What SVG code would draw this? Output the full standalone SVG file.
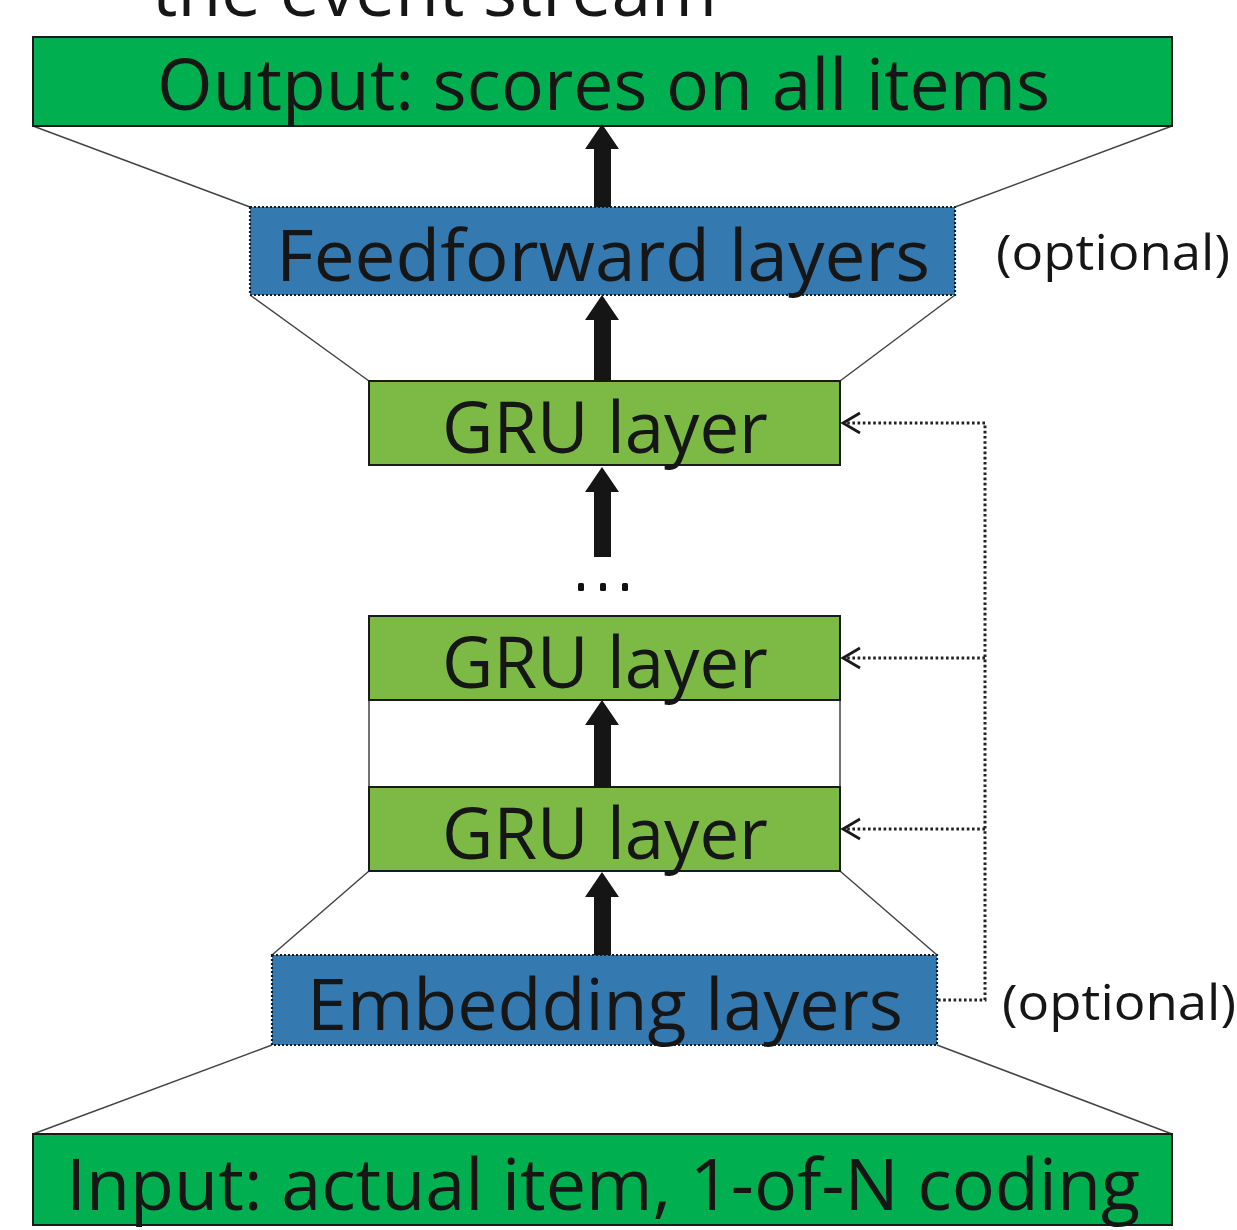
<svg xmlns="http://www.w3.org/2000/svg" width="1237" height="1230" viewBox="0 0 1237 1230">
<style>
.lbl{font-family:"Open Sans","Noto Sans","DejaVu Sans",sans-serif;font-size:72px;fill:#161616}
.opt{font-family:"Open Sans","Noto Sans","DejaVu Sans",sans-serif;font-size:50px;fill:#161616}
.green{fill:#00B050;stroke:#1a1a1a;stroke-width:2}
.lgreen{fill:#7DB945;stroke:#1a1a1a;stroke-width:2}
.blue{fill:#347AB0;stroke:#1a1a1a;stroke-width:2.2;stroke-dasharray:2 2}
.side{stroke:#444;stroke-width:1.5;fill:none}
.fb{stroke:#222;stroke-width:3;fill:none;stroke-dasharray:2.6 2.6}
.chev{stroke:#1a1a1a;stroke-width:2.8;fill:none}
.thick{fill:#151515}
</style>
<rect width="1237" height="1230" fill="#ffffff"/>
<text class="lbl" x="152" y="16" textLength="565" lengthAdjust="spacingAndGlyphs">the event stream</text>

<g id="side-lines">
<line class="side" x1="33" y1="126" x2="250" y2="207"/>
<line class="side" x1="1172" y1="126" x2="955" y2="207"/>
<line class="side" x1="250" y1="295" x2="369" y2="381"/>
<line class="side" x1="955" y1="295" x2="840" y2="381"/>
<line class="side" x1="369" y1="700" x2="369" y2="787"/>
<line class="side" x1="840" y1="700" x2="840" y2="787"/>
<line class="side" x1="369" y1="871" x2="272" y2="955"/>
<line class="side" x1="840" y1="871" x2="937" y2="955"/>
<line class="side" x1="272" y1="1045" x2="33" y2="1134"/>
<line class="side" x1="937" y1="1045" x2="1172" y2="1134"/>
</g>

<g id="output">
<rect class="green" x="33" y="37" width="1139" height="89"/>
<text class="lbl" x="157" y="110" textLength="893" lengthAdjust="spacingAndGlyphs">Output: scores on all items</text>
</g>
<g id="feedforward">
<rect class="blue" x="250" y="207" width="705" height="88"/>
<text class="lbl" x="276" y="281" textLength="654" lengthAdjust="spacingAndGlyphs">Feedforward layers</text>
</g>
<text class="opt" x="996" y="270" textLength="234" lengthAdjust="spacingAndGlyphs">(optional)</text>
<g id="gru1">
<rect class="lgreen" x="369" y="381" width="471" height="84"/>
<text class="lbl" x="442" y="453" textLength="326" lengthAdjust="spacingAndGlyphs">GRU layer</text>
</g>
<g id="ellipsis">
<rect x="578" y="583" width="6" height="8" rx="1.5" fill="#111"/>
<rect x="600" y="583" width="6" height="8" rx="1.5" fill="#111"/>
<rect x="622" y="583" width="6" height="8" rx="1.5" fill="#111"/>
</g>
<g id="gru2">
<rect class="lgreen" x="369" y="616" width="471" height="84"/>
<text class="lbl" x="442" y="688" textLength="326" lengthAdjust="spacingAndGlyphs">GRU layer</text>
</g>
<g id="gru3">
<rect class="lgreen" x="369" y="787" width="471" height="84"/>
<text class="lbl" x="442" y="859" textLength="326" lengthAdjust="spacingAndGlyphs">GRU layer</text>
</g>
<g id="embedding">
<rect class="blue" x="272" y="955" width="665" height="90"/>
<text class="lbl" x="307" y="1030" textLength="596" lengthAdjust="spacingAndGlyphs">Embedding layers</text>
</g>
<text class="opt" x="1002" y="1020" textLength="234" lengthAdjust="spacingAndGlyphs">(optional)</text>
<g id="input">
<rect class="green" x="33" y="1134" width="1139" height="91"/>
<text class="lbl" x="66" y="1210" textLength="1074" lengthAdjust="spacingAndGlyphs">Input: actual item, 1-of-N coding</text>
</g>

<g id="connectors">
<path class="thick" d="M602,124 L619,149 L611,149 L611,207 L594,207 L594,149 L585,149 Z"/>
<path class="thick" d="M602,295 L619,320 L611,320 L611,381 L594,381 L594,320 L585,320 Z"/>
<path class="thick" d="M602,467 L619,492 L611,492 L611,557 L594,557 L594,492 L585,492 Z"/>
<path class="thick" d="M602,700 L619,725 L611,725 L611,787 L594,787 L594,725 L585,725 Z"/>
<path class="thick" d="M602,872 L619,897 L611,897 L611,955 L594,955 L594,897 L585,897 Z"/>
<path class="fb" d="M938,1000 L985,1000 L985,423 L844,423"/>
<path class="fb" d="M985,658 L844,658"/>
<path class="fb" d="M985,829 L844,829"/>
<polyline class="chev" points="860,413 843,423 860,433"/>
<polyline class="chev" points="860,648 843,658 860,668"/>
<polyline class="chev" points="860,819 843,829 860,839"/>
</g>
</svg>
